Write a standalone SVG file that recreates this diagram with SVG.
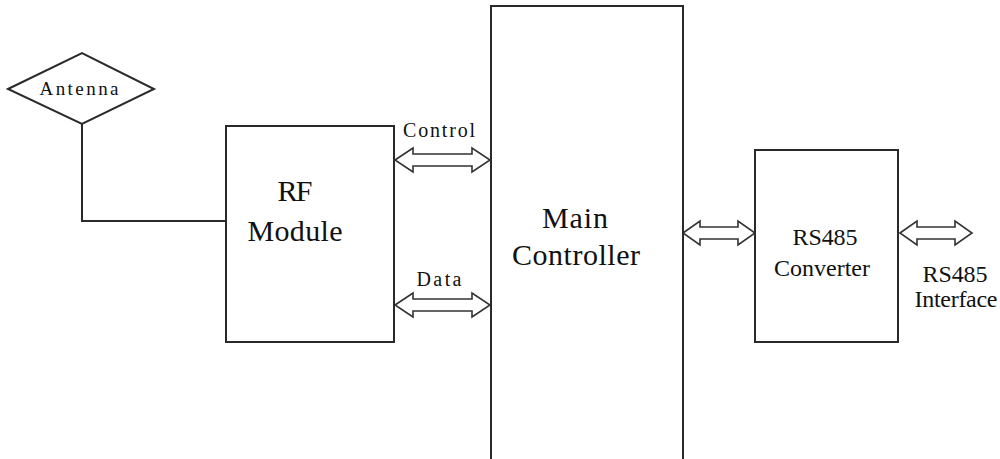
<svg xmlns="http://www.w3.org/2000/svg" width="1000" height="459" viewBox="0 0 1000 459">
<style>
.box{fill:#fff;stroke:#2a2a2a;stroke-width:2}
.arr{fill:#fff;stroke:#333;stroke-width:1.6;stroke-linejoin:miter}
.wire{fill:none;stroke:#2a2a2a;stroke-width:2}
.t{fill:#111;text-anchor:middle}
.big{font-size:30px}
.mid{font-size:24px}
.sm{font-size:20px}
</style>
<rect width="1000" height="459" fill="#fff"/>
<g font-family="Liberation Serif, DejaVu Serif, serif">
<g id="connectors">
<polyline class="wire" points="82,124 82,221 226,221"/>
<path class="arr" d="M395,160 L413,148 L413,154 L472,154 L472,148 L490,160 L472,172 L472,166 L413,166 L413,172 Z"/>
<path class="arr" d="M395,305 L413,293 L413,299 L472,299 L472,293 L490,305 L472,317 L472,311 L413,311 L413,317 Z"/>
<path class="arr" d="M683,233 L700,221 L700,227 L738,227 L738,221 L755,233 L738,245 L738,239 L700,239 L700,245 Z"/>
<path class="arr" d="M900,233 L917,221 L917,227 L955,227 L955,221 L972,233 L955,245 L955,239 L917,239 L917,245 Z"/>
<text class="t sm" x="439" y="137" textLength="72">Control</text>
<text class="t sm" x="439" y="286" textLength="45">Data</text>
</g>
<g id="antenna">
<polygon class="box" points="8,89 82,53 154,89 82,124"/>
<text class="t" x="79" y="95" font-size="19" textLength="79">Antenna</text>
</g>
<g id="rf-module">
<rect class="box" x="226" y="126" width="168" height="216"/>
<text class="t big" x="295" y="201" textLength="35">RF</text>
<text class="t big" x="295" y="241" textLength="95">Module</text>
</g>
<g id="main-controller">
<rect class="box" x="491" y="6" width="192" height="470"/>
<text class="t big" x="575" y="228" textLength="66">Main</text>
<text class="t big" x="576" y="265" textLength="128">Controller</text>
</g>
<g id="rs485-converter">
<rect class="box" x="755" y="150" width="143" height="192"/>
<text class="t mid" x="825" y="245" textLength="65">RS485</text>
<text class="t mid" x="822" y="276" textLength="96">Converter</text>
</g>
<g id="rs485-interface">
<text class="t mid" x="955" y="282" textLength="65">RS485</text>
<text class="t mid" x="956" y="307" textLength="83">Interface</text>
</g>
</g>
</svg>
